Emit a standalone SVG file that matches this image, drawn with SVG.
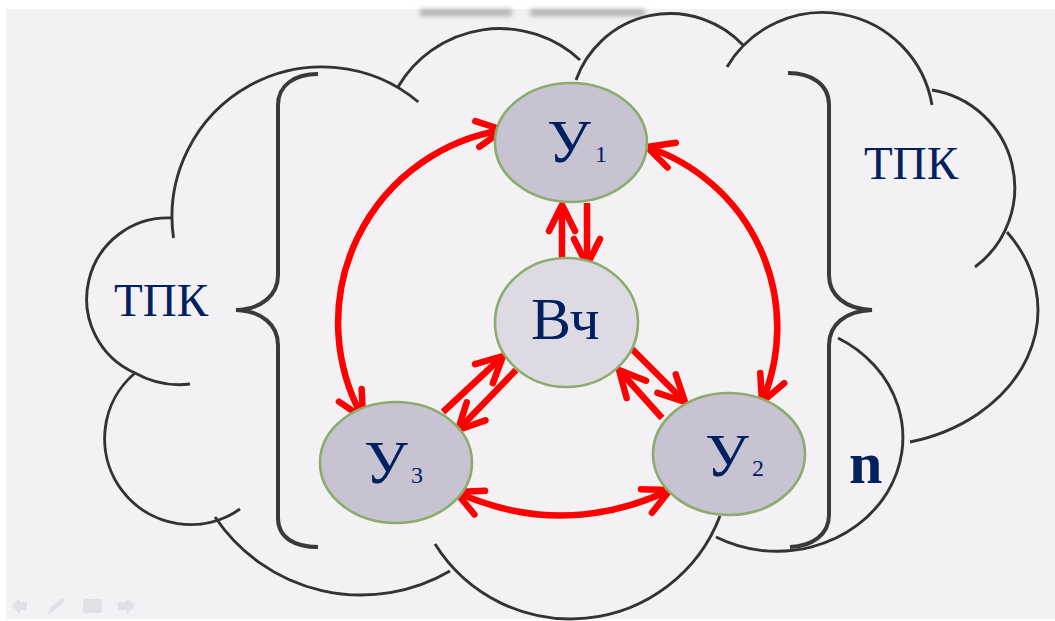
<svg xmlns="http://www.w3.org/2000/svg" width="1055" height="621" viewBox="0 0 1055 621">
<style>
.cloud{fill:none;stroke:#333;stroke-width:2.9;stroke-linecap:butt}
.brace{fill:none;stroke:#3a3a3a;stroke-width:4;stroke-linecap:butt}
.lbl{font-family:"Liberation Serif","Times New Roman",serif;fill:#002060}
.nodeU{fill:#c8c3d3;stroke:#8cab6c;stroke-width:2.6}
.nodeB{fill:#dedae4;stroke:#8cab6c;stroke-width:2.6}
.arr{fill:none;stroke:#ff0000;stroke-width:6.5}
.nav{fill:#e2e0e4}
</style>
<defs>
<marker id="ah" viewBox="-33 -20 40 40" refX="0" refY="0" markerWidth="40" markerHeight="40" markerUnits="userSpaceOnUse" orient="auto-start-reverse">
<path d="M-26,-13 L0,0 L-26,13" fill="none" stroke="#ff0000" stroke-width="6.5" stroke-linecap="round" stroke-linejoin="round"/>
</marker>
<filter id="blur" x="-20%" y="-150%" width="140%" height="400%"><feGaussianBlur stdDeviation="2.5"/></filter>
</defs>
<rect x="0" y="0" width="1055" height="621" fill="#ffffff"/>
<rect x="6" y="9" width="1049" height="610" fill="#f3f1f4"/>
<g id="title-blur" filter="url(#blur)" fill="#9a9a9a" opacity="0.75">
<rect x="420" y="9" width="92" height="7"/>
<rect x="530" y="9" width="115" height="7"/>
</g>
<g id="cloud">
<path class="cloud" d="M173.5,238 A150,150 0 0 1 418.4,102"/>
<path class="cloud" d="M398,87 A118,118 0 0 1 580,60"/>
<path class="cloud" d="M576,80 A100,100 0 0 1 743,45"/>
<path class="cloud" d="M727,67 A111,111 0 0 1 932,105"/>
<path class="cloud" d="M932,90 A99,99 0 0 1 975,267"/>
<path class="cloud" d="M1007,232 A170,136 0 0 1 910,442"/>
<path class="cloud" d="M716,537 A125,113 0 1 0 838,338"/>
<path class="cloud" d="M435,544 A160,160 0 0 0 720,516"/>
<path class="cloud" d="M215,517 A176,176 0 0 0 450,571"/>
<path class="cloud" d="M135,373 A86,86 0 0 0 240,509"/>
<path class="cloud" d="M172,218 A81,81 0 0 0 135,373 A90,90 0 0 0 190,384"/>
</g>
<g id="braces">
<path class="brace" d="M318,74 C295,74 278,85 278,105 L278,275 C278,295 262,309 236,310 C262,311 278,325 278,345 L278,518 C278,538 295,547 318,547"/>
<path class="brace" d="M788,73 C811,73 829,84 829,105 L829,275 C829,295 845,309 872,310 C845,311 829,325 829,345 L829,515 C829,535 812,546 790,547"/>
</g>
<g id="labels">
<text class="lbl" x="114" y="316" font-size="47">ТПК</text>
<text class="lbl" x="864" y="179" font-size="47">ТПК</text>
<text class="lbl" x="849" y="483" font-size="60" font-weight="bold">n</text>
</g>
<g id="connectors">
<path class="arr" d="M503,130 A195,195 0 0 0 363,418" marker-start="url(#ah)" marker-end="url(#ah)"/>
<path class="arr" d="M647,147 A190,190 0 0 1 762,402" marker-start="url(#ah)" marker-end="url(#ah)"/>
<path class="arr" d="M456,492 Q563,540 670,490" marker-start="url(#ah)" marker-end="url(#ah)"/>
<path class="arr" d="M562,258 L562,205" marker-end="url(#ah)"/>
<path class="arr" d="M587,203 L587,265" marker-end="url(#ah)"/>
<path class="arr" d="M443,412 L503,356" marker-end="url(#ah)"/>
<path class="arr" d="M516,370 L458,430" marker-end="url(#ah)"/>
<path class="arr" d="M630,347 L685,402" marker-end="url(#ah)"/>
<path class="arr" d="M662,418 L619,370" marker-end="url(#ah)"/>
</g>
<g id="node-U1">
<ellipse class="nodeU" cx="571" cy="142.5" rx="76" ry="59.5"/>
<text class="lbl" x="547" y="162" font-size="62">У<tspan font-size="24" dx="4">1</tspan></text>
</g>
<g id="node-Vch">
<ellipse class="nodeB" cx="566.5" cy="322.5" rx="71.5" ry="64.5"/>
<text class="lbl" x="531" y="339" font-size="60">Вч</text>
</g>
<g id="node-U3">
<ellipse class="nodeU" cx="396" cy="462.5" rx="76" ry="60.5"/>
<text class="lbl" x="364" y="483" font-size="62">У<tspan font-size="24" dx="3">3</tspan></text>
</g>
<g id="node-U2">
<ellipse class="nodeU" cx="729" cy="454" rx="76" ry="61"/>
<text class="lbl" x="705" y="476" font-size="62">У<tspan font-size="24" dx="3">2</tspan></text>
</g>
<g id="nav">
<path class="nav" d="M12,606 L20,598 L20,602 L27,602 L27,610 L20,610 L20,614 Z"/>
<path class="nav" d="M48,614 L50,608 L62,598 L65,601 L53,611 Z"/>
<rect class="nav" x="83" y="599" width="19" height="14" rx="2"/>
<path class="nav" d="M135,606 L127,598 L127,602 L118,602 L118,610 L127,610 L127,614 Z"/>
</g>
</svg>
